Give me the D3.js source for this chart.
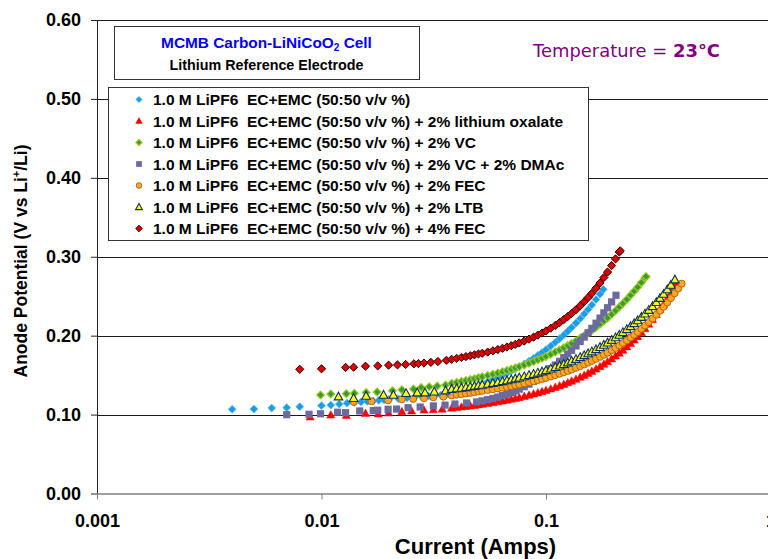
<!DOCTYPE html>
<html>
<head>
<meta charset="utf-8">
<script src="https://cdn.jsdelivr.net/npm/d3@7"></script>
<style>
  html, body { margin: 0; padding: 0; background: #fff; }
  svg { display: block; font-family: "Liberation Sans", Arial, sans-serif; }
  text { white-space: pre; }
</style>
</head>
<body>
<svg id="chart" width="768" height="559"></svg>
<script>
// ---- Data: anode potential (V vs Li+/Li) against current (A) ----
const seriesNames = [
  "1.0 M LiPF6  EC+EMC (50:50 v/v %)",
  "1.0 M LiPF6  EC+EMC (50:50 v/v %) + 2% lithium oxalate",
  "1.0 M LiPF6  EC+EMC (50:50 v/v %) + 2% VC",
  "1.0 M LiPF6  EC+EMC (50:50 v/v %) + 2% VC + 2% DMAc",
  "1.0 M LiPF6  EC+EMC (50:50 v/v %) + 2% FEC",
  "1.0 M LiPF6  EC+EMC (50:50 v/v %) + 2% LTB",
  "1.0 M LiPF6  EC+EMC (50:50 v/v %) + 4% FEC"
];

const baselineCell = [
  [0.004,0.1067],[0.005,0.1070],[0.006,0.1083],[0.007,0.1088],[0.008,0.1100],[0.010,0.1113],[0.011,0.1120],
  [0.012,0.1133],[0.013,0.1145],[0.014,0.1152],[0.015,0.1160],[0.016,0.1167],[0.017,0.1173],[0.018,0.1180],
  [0.019,0.1186],[0.020,0.1192],[0.022,0.1202],[0.024,0.1211],[0.026,0.1220],[0.028,0.1228],[0.030,0.1234],
  [0.032,0.1240],[0.034,0.1246],[0.036,0.1250],[0.038,0.1267],[0.040,0.1285],[0.042,0.1302],[0.044,0.1320],
  [0.046,0.1337],[0.048,0.1355],[0.050,0.1373],[0.052,0.1390],[0.055,0.1417],[0.058,0.1443],[0.061,0.1470],
  [0.064,0.1497],[0.067,0.1524],[0.070,0.1551],[0.073,0.1577],[0.076,0.1604],[0.080,0.1641],[0.084,0.1677],
  [0.088,0.1713],[0.092,0.1750],[0.096,0.1786],[0.100,0.1823],[0.105,0.1869],[0.110,0.1916],[0.115,0.1962],
  [0.120,0.2009],[0.125,0.2056],[0.130,0.2103],[0.136,0.2160],[0.142,0.2217],[0.148,0.2275],[0.154,0.2332],
  [0.160,0.2390],[0.167,0.2458],[0.174,0.2527],[0.180,0.2586]
];

const oxalateCell = [
  [0.0089,0.0970],[0.0110,0.0995],[0.0129,0.0990],[0.0157,0.1016],[0.0179,0.1008],[0.0199,0.1020],
  [0.0228,0.1037],[0.0252,0.1046],[0.0286,0.1058],[0.0315,0.1062],[0.0345,0.1070],[0.038,0.1083],
  [0.040,0.1090],[0.042,0.1097],[0.044,0.1103],[0.046,0.1110],[0.048,0.1117],[0.050,0.1124],[0.052,0.1131],
  [0.055,0.1141],[0.058,0.1152],[0.061,0.1163],[0.064,0.1173],[0.067,0.1184],[0.070,0.1195],[0.073,0.1206],
  [0.076,0.1216],[0.080,0.1231],[0.084,0.1246],[0.088,0.1261],[0.092,0.1276],[0.096,0.1291],[0.100,0.1306],
  [0.105,0.1325],[0.110,0.1345],[0.115,0.1364],[0.120,0.1384],[0.125,0.1404],[0.130,0.1424],[0.136,0.1448],
  [0.142,0.1473],[0.148,0.1498],[0.154,0.1523],[0.160,0.1548],[0.167,0.1578],[0.174,0.1608],[0.181,0.1639],
  [0.188,0.1670],[0.196,0.1706],[0.204,0.1742],[0.212,0.1779],[0.220,0.1816],[0.229,0.1859],[0.238,0.1902],
  [0.247,0.1945],[0.256,0.1989],[0.266,0.2039],[0.276,0.2090],[0.287,0.2146],[0.298,0.2204],[0.310,0.2267],
  [0.322,0.2332],[0.334,0.2397],[0.347,0.2469],[0.360,0.2543],[0.374,0.2623],[0.380,0.2658]
];

const vcCell = [
  [0.0099,0.1248],[0.0110,0.1261],[0.0129,0.1265],[0.0140,0.1270],[0.0158,0.1280],[0.0177,0.1286],
  [0.0207,0.1303],[0.0228,0.1314],[0.0257,0.1324],[0.0278,0.1343],[0.0302,0.1352],[0.0328,0.1362],
  [0.0357,0.1375],[0.038,0.1395],[0.040,0.1408],[0.042,0.1420],[0.044,0.1432],[0.046,0.1443],[0.048,0.1455],
  [0.050,0.1468],[0.052,0.1479],[0.055,0.1495],[0.058,0.1511],[0.061,0.1527],[0.064,0.1543],[0.067,0.1559],
  [0.070,0.1575],[0.073,0.1591],[0.076,0.1607],[0.080,0.1629],[0.084,0.1650],[0.088,0.1672],[0.092,0.1694],
  [0.096,0.1715],[0.100,0.1737],[0.105,0.1764],[0.110,0.1792],[0.115,0.1819],[0.120,0.1846],[0.125,0.1874],
  [0.130,0.1901],[0.136,0.1934],[0.142,0.1967],[0.148,0.2000],[0.154,0.2034],[0.160,0.2068],[0.167,0.2107],
  [0.174,0.2146],[0.181,0.2185],[0.188,0.2225],[0.196,0.2270],[0.204,0.2316],[0.212,0.2362],[0.220,0.2407],
  [0.229,0.2459],[0.238,0.2511],[0.247,0.2563],[0.256,0.2615],[0.266,0.2673],[0.276,0.2732],[0.279,0.2749]
];

const vcDmacCell = [
  [0.0070,0.0999],[0.0088,0.1004],[0.0099,0.1010],[0.0118,0.1030],[0.0128,0.1024],[0.0148,0.1046],
  [0.0170,0.1050],[0.0178,0.1055],[0.0198,0.1067],[0.0216,0.1070],[0.0243,0.1087],[0.0275,0.1096],
  [0.0315,0.1110],[0.0355,0.1120],[0.0393,0.1134],[0.0443,0.1147],[0.0491,0.1160],[0.052,0.1174],
  [0.055,0.1189],[0.058,0.1205],[0.061,0.1222],[0.064,0.1240],[0.067,0.1259],[0.070,0.1279],[0.073,0.1300],
  [0.076,0.1322],[0.080,0.1353],[0.084,0.1386],[0.088,0.1421],[0.092,0.1457],[0.096,0.1495],[0.100,0.1535],
  [0.105,0.1582],[0.110,0.1628],[0.115,0.1675],[0.120,0.1721],[0.125,0.1768],[0.130,0.1814],[0.136,0.1870],
  [0.142,0.1926],[0.148,0.1982],[0.154,0.2037],[0.160,0.2093],[0.167,0.2158],[0.174,0.2223],[0.181,0.2289],
  [0.188,0.2354],[0.196,0.2428],[0.205,0.2512]
];

const fecCell = [
  [0.0139,0.1163],[0.0167,0.1169],[0.0198,0.1181],[0.0228,0.1194],[0.0256,0.1198],[0.0286,0.1207],
  [0.0315,0.1219],[0.0349,0.1227],[0.038,0.1243],[0.040,0.1251],[0.042,0.1259],[0.044,0.1267],[0.046,0.1275],
  [0.048,0.1284],[0.050,0.1294],[0.052,0.1301],[0.055,0.1311],[0.058,0.1321],[0.061,0.1331],[0.064,0.1341],
  [0.067,0.1351],[0.070,0.1361],[0.073,0.1372],[0.076,0.1382],[0.080,0.1396],[0.084,0.1409],[0.088,0.1423],
  [0.092,0.1437],[0.096,0.1451],[0.100,0.1465],[0.105,0.1483],[0.110,0.1500],[0.115,0.1518],[0.120,0.1536],
  [0.125,0.1553],[0.130,0.1571],[0.136,0.1593],[0.142,0.1615],[0.148,0.1636],[0.154,0.1658],[0.160,0.1680],
  [0.167,0.1706],[0.174,0.1732],[0.181,0.1758],[0.188,0.1785],[0.196,0.1815],[0.204,0.1845],[0.212,0.1876],
  [0.220,0.1907],[0.229,0.1942],[0.238,0.1977],[0.247,0.2012],[0.256,0.2047],[0.266,0.2087],[0.276,0.2128],
  [0.287,0.2172],[0.298,0.2217],[0.310,0.2266],[0.322,0.2316],[0.334,0.2366],[0.347,0.2421],[0.360,0.2476],
  [0.374,0.2537],[0.388,0.2597],[0.402,0.2659]
];

const ltbCell = [
  [0.0119,0.1227],[0.0139,0.1207],[0.0158,0.1236],[0.0189,0.1248],[0.0209,0.1248],[0.0238,0.1270],
  [0.0267,0.1278],[0.0289,0.1278],[0.0318,0.1290],[0.0357,0.1303],[0.038,0.1322],[0.040,0.1330],
  [0.042,0.1337],[0.044,0.1345],[0.046,0.1352],[0.048,0.1360],[0.050,0.1368],[0.052,0.1375],[0.055,0.1387],
  [0.058,0.1398],[0.061,0.1409],[0.064,0.1421],[0.067,0.1432],[0.070,0.1444],[0.073,0.1455],[0.076,0.1467],
  [0.080,0.1482],[0.084,0.1498],[0.088,0.1513],[0.092,0.1529],[0.096,0.1544],[0.100,0.1560],[0.105,0.1580],
  [0.110,0.1599],[0.115,0.1619],[0.120,0.1638],[0.125,0.1658],[0.130,0.1678],[0.136,0.1702],[0.142,0.1726],
  [0.148,0.1750],[0.154,0.1774],[0.160,0.1798],[0.167,0.1826],[0.174,0.1854],[0.181,0.1882],[0.188,0.1911],
  [0.196,0.1944],[0.204,0.1976],[0.212,0.2009],[0.220,0.2042],[0.229,0.2080],[0.238,0.2117],[0.247,0.2155],
  [0.256,0.2193],[0.266,0.2235],[0.276,0.2277],[0.287,0.2324],[0.298,0.2371],[0.310,0.2423],[0.322,0.2475],
  [0.334,0.2527],[0.347,0.2584],[0.360,0.2642],[0.375,0.2710]
];

const fec4Cell = [
  [0.0080,0.1574],[0.0100,0.1580],[0.0128,0.1598],[0.0139,0.1600],[0.0157,0.1613],[0.0178,0.1617],
  [0.0199,0.1626],[0.0218,0.1630],[0.0237,0.1635],[0.0258,0.1644],[0.0270,0.1646],[0.0286,0.1653],
  [0.0307,0.1662],[0.0330,0.1672],[0.036,0.1688],[0.038,0.1700],[0.040,0.1712],[0.042,0.1724],[0.044,0.1735],
  [0.046,0.1746],[0.048,0.1757],[0.050,0.1768],[0.052,0.1777],[0.055,0.1792],[0.058,0.1808],[0.061,0.1824],
  [0.064,0.1840],[0.067,0.1856],[0.070,0.1873],[0.073,0.1890],[0.076,0.1908],[0.080,0.1932],[0.084,0.1956],
  [0.088,0.1981],[0.092,0.2007],[0.096,0.2033],[0.100,0.2060],[0.105,0.2095],[0.110,0.2130],[0.115,0.2166],
  [0.120,0.2204],[0.125,0.2242],[0.130,0.2281],[0.136,0.2329],[0.142,0.2379],[0.148,0.2430],[0.154,0.2483],
  [0.160,0.2536],[0.167,0.2601],[0.174,0.2667],[0.181,0.2736],[0.188,0.2806],[0.196,0.2888],[0.204,0.2973],
  [0.212,0.3060],[0.214,0.3075]
];

const yTicks = [0, 0.1, 0.2, 0.3, 0.4, 0.5, 0.6];
const xTicks = [0.001, 0.01, 0.1, 1];
const xTickLabels = ["0.001", "0.01", "0.1", "1"];

// ---- Marker appearance per series ----
const seriesData = [baselineCell, oxalateCell, vcCell, vcDmacCell, fecCell, ltbCell, fec4Cell];
const markerStyles = [
  { shape: "diamond",  r: 3.9, fill: "#1C9CE6", stroke: "#4FB8EE", sw: 0.8 },
  { shape: "triangle", r: 4.3, fill: "#FF0000", stroke: "#FF0000", sw: 0.5 },
  { shape: "diamond",  r: 3.9, fill: "#3A9A3A", stroke: "#9BCB1E", sw: 1.2 },
  { shape: "square",   r: 3.6, fill: "#6B6B9F", stroke: "none",    sw: 0 },
  { shape: "circle",   r: 3.5, fill: "#F9A825", stroke: "#B8650A", sw: 1 },
  { shape: "triangle", r: 4.5, fill: "#FFFF00", stroke: "#0B2F66", sw: 1.1 },
  { shape: "diamond",  r: 4.1, fill: "#E00000", stroke: "#2A0000", sw: 1 }
];

function markerPath(shape, r) {
  switch (shape) {
    case "diamond":  return `M0,${-r}L${r},0L0,${r}L${-r},0Z`;
    case "triangle": return `M0,${-r}L${r * 0.95},${r * 0.72}L${-r * 0.95},${r * 0.72}Z`;
    case "square":   return `M${-r},${-r}H${r}V${r}H${-r}Z`;
    default:         return `M${r},0A${r},${r} 0 1,1 ${-r},0A${r},${r} 0 1,1 ${r},0Z`;
  }
}

// ---- Scales ----
const svg = d3.select("#chart");
const x = d3.scaleLog().domain([0.001, 1]).range([97, 770.5]);
const y = d3.scaleLinear().domain([0, 0.6]).range([493.5, 20]);

// Horizontal gridlines
svg.append("g")
  .selectAll("line")
  .data(yTicks.filter(v => v > 0))
  .join("line")
  .attr("x1", x(0.001)).attr("x2", x(1))
  .attr("y1", d => Math.round(y(d)) + 0.5).attr("y2", d => Math.round(y(d)) + 0.5)
  .attr("stroke", "#1a1a1a").attr("stroke-width", 1);

// Axes
const yAxis = svg.append("g")
  .attr("transform", `translate(${x(0.001)},0)`)
  .call(d3.axisLeft(y).tickValues(yTicks).tickFormat(d3.format(".2f"))
    .tickSize(6).tickSizeOuter(0).tickPadding(10));
yAxis.select(".domain").attr("stroke", "#222");
yAxis.selectAll(".tick line").attr("stroke", "#222");
yAxis.selectAll(".tick text")
  .attr("font-family", "Liberation Sans, Arial, sans-serif")
  .attr("font-size", 18).attr("font-weight", "bold").attr("fill", "#000");

const xAxis = svg.append("g")
  .attr("transform", `translate(0,${y(0)})`)
  .call(d3.axisBottom(x).tickValues(xTicks).tickFormat((d, i) => xTickLabels[i])
    .tickSize(6).tickSizeOuter(0).tickPadding(15));
xAxis.select(".domain").attr("stroke", "#808080").attr("stroke-width", 1.3);
xAxis.selectAll(".tick line").attr("stroke", "#808080");
xAxis.selectAll(".tick text")
  .attr("font-family", "Liberation Sans, Arial, sans-serif")
  .attr("font-size", 18).attr("font-weight", "bold").attr("fill", "#000");

// Data markers, drawn series by series
seriesData.forEach((pts, i) => {
  const st = markerStyles[i];
  svg.append("g")
    .selectAll("path")
    .data(pts)
    .join("path")
    .attr("transform", d => `translate(${x(d[0])},${y(d[1])})`)
    .attr("d", markerPath(st.shape, st.r))
    .attr("fill", st.fill)
    .attr("stroke", st.stroke)
    .attr("stroke-width", st.sw);
});

// Title box
const titleBox = svg.append("g");
titleBox.append("rect")
  .attr("x", 114.5).attr("y", 26.5).attr("width", 305).attr("height", 53)
  .attr("fill", "#fff").attr("stroke", "#333").attr("stroke-width", 1);
const t1 = titleBox.append("text")
  .attr("x", 266.5).attr("y", 47.5).attr("text-anchor", "middle")
  .attr("font-size", 15.4).attr("font-weight", "bold").attr("fill", "#0000FF");
t1.append("tspan").text("MCMB Carbon-LiNiCoO");
t1.append("tspan").attr("font-size", 10).attr("dy", 3).text("2");
t1.append("tspan").attr("dy", -3).text(" Cell");
titleBox.append("text")
  .attr("x", 266.5).attr("y", 69.5).attr("text-anchor", "middle")
  .attr("font-size", 14.3).attr("font-weight", "bold").attr("fill", "#000")
  .text("Lithium Reference Electrode");

// Temperature note
const temp = svg.append("text")
  .attr("x", 533).attr("y", 57)
  .attr("font-family", "DejaVu Sans, sans-serif")
  .attr("font-size", 18.5).attr("fill", "#800080")
  .attr("textLength", 187).attr("lengthAdjust", "spacingAndGlyphs");
temp.append("tspan").text("Temperature = ");
temp.append("tspan").attr("font-weight", "bold").text("23°C");

// Legend
const legend = svg.append("g");
legend.append("rect")
  .attr("x", 108.5).attr("y", 87.5).attr("width", 480).attr("height", 153)
  .attr("fill", "#fff").attr("stroke", "#333").attr("stroke-width", 1);
seriesNames.forEach((name, i) => {
  const cy = 99.5 + i * 21.5;
  const st = markerStyles[i];
  legend.append("path")
    .attr("transform", `translate(139,${cy})`)
    .attr("d", markerPath(st.shape, st.r * 0.8))
    .attr("fill", st.fill).attr("stroke", st.stroke).attr("stroke-width", st.sw);
  legend.append("text")
    .attr("x", 153).attr("y", cy + 5.5)
    .attr("font-size", 15.5).attr("font-weight", "bold").attr("fill", "#000")
    .text(name);
});

// Axis titles
svg.append("text")
  .attr("x", 475.5).attr("y", 554).attr("text-anchor", "middle")
  .attr("font-size", 22).attr("font-weight", "bold").attr("fill", "#000")
  .text("Current (Amps)");

const yTitle = svg.append("text")
  .attr("transform", "translate(27,261) rotate(-90)")
  .attr("text-anchor", "middle")
  .attr("font-size", 17.5).attr("font-weight", "bold").attr("fill", "#000");
yTitle.append("tspan").text("Anode Potential (V vs Li");
yTitle.append("tspan").attr("font-size", 11).attr("dy", -7).text("+");
yTitle.append("tspan").attr("dy", 7).text("/Li)");
</script>
</body>
</html>
